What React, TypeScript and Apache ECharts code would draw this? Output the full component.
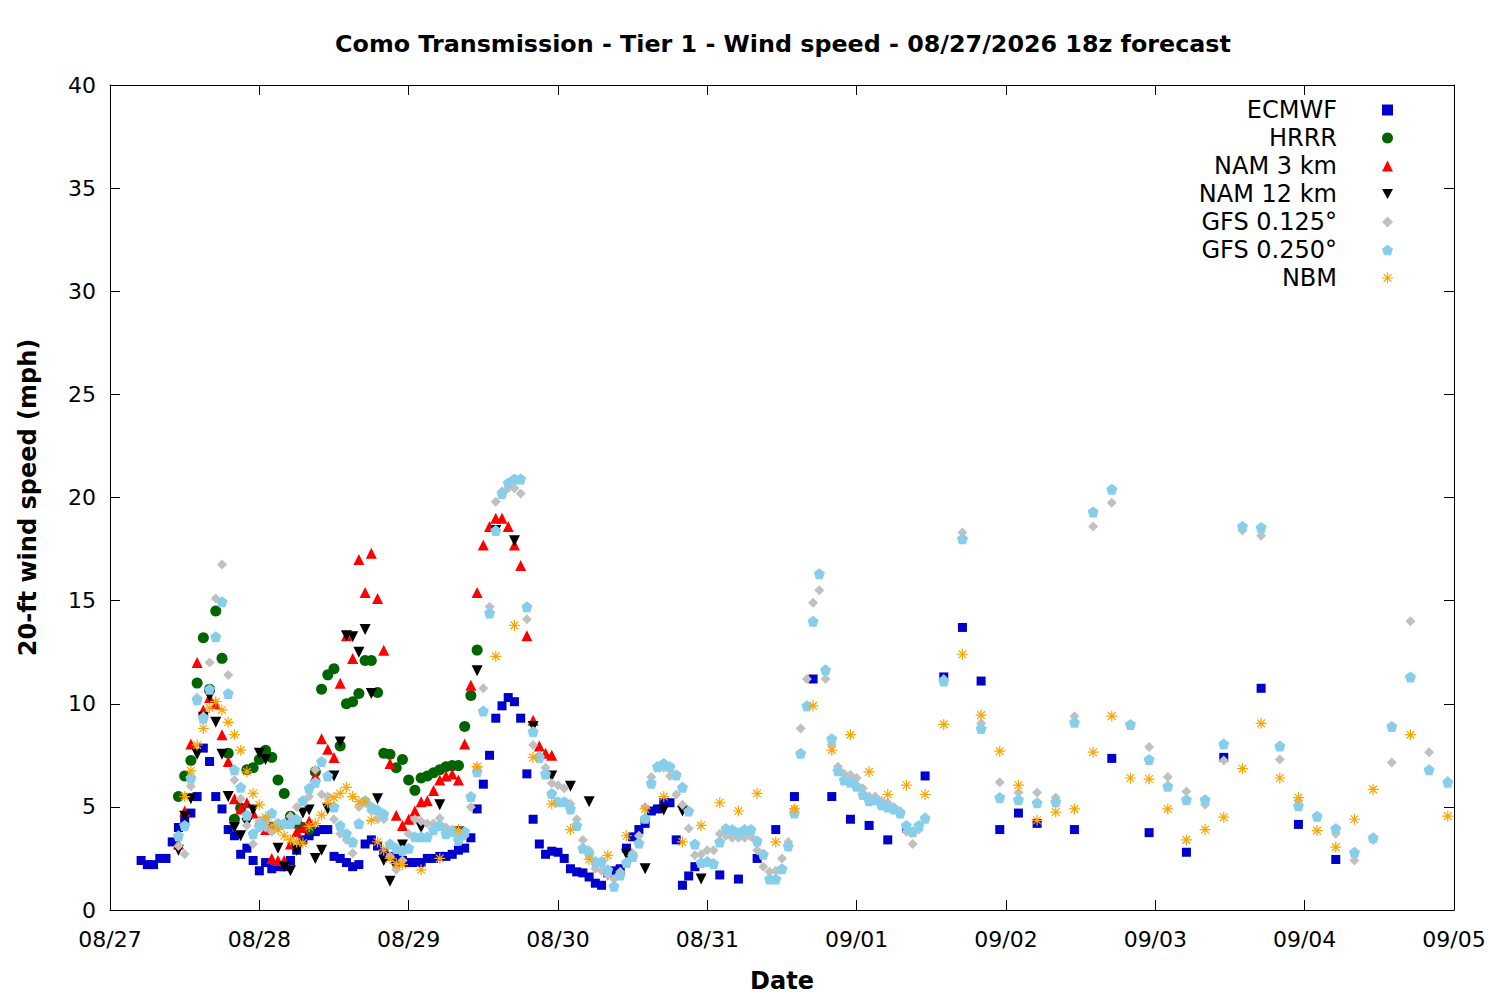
import React, { useEffect, useRef } from "react";
import * as echarts from "echarts";

// forecast hours are counted from 08/27 00 (one tick per day)
const range = (start: number, end: number, step: number): number[] => {
  const out: number[] = [];
  for (let h = start; h <= end; h += step) out.push(h);
  return out;
};

const dateLabels = ["08/27", "08/28", "08/29", "08/30", "08/31", "09/01", "09/02", "09/03", "09/04", "09/05"];

const ecmwfHours = [...range(5, 94, 1), ...range(98, 149, 3), ...range(155, 197, 6)];
const ecmwfValues = [
  2.4, 2.2, 2.2, 2.5, 2.5, 3.3, 4.0, 4.4, 4.7, 5.5,
  7.85, 7.2, 5.5, 4.9, 3.9, 3.6, 2.7, 3.0, 2.4, 1.9,
  2.3, 2.0, 2.1, 2.1, 2.4, 2.9, 3.4, 3.6, 3.8, 3.9,
  3.9, 2.6, 2.5, 2.3, 2.1, 2.2, 3.2, 3.4, 3.1, 2.8,
  2.6, 2.5, 2.4, 2.3, 2.3, 2.3, 2.5, 2.5, 2.6, 2.6,
  2.7, 2.9, 3.0, 3.5, 4.9, 6.1, 7.5, 9.3, 9.9, 10.3,
  10.1, 9.3, 6.6, 4.4, 3.2, 2.7, 2.85, 2.8, 2.5, 2.0,
  1.85, 1.8, 1.6, 1.3, 1.2, 1.8, 1.9, 2.0, 3.0, 3.55,
  3.9, 4.2, 4.8, 4.9, 5.2, 5.2, 3.4, 1.2, 1.65, 2.1,
  1.7, 1.5, 2.5, 3.9, 5.5, 11.2, 5.5, 4.4, 4.1, 3.4,
  3.95, 6.5, 11.3, 13.7, 11.1, 3.9, 4.7, 4.2,
  3.9, 7.35, 3.75, 2.8, 7.4, 10.75, 4.15, 2.45,
];

const hrrrHours = range(11, 59, 1);
const hrrrValues = [
  5.5, 6.5, 7.25, 11.0, 13.2, 10.7, 14.5, 12.2, 7.6, 4.4,
  4.95, 6.8, 6.9, 7.3, 7.75, 7.4, 6.3, 5.65, 4.55, 4.2,
  4.0, 3.9, 6.7, 10.7, 11.4, 11.7, 7.95, 10.0, 10.1, 10.5,
  12.1, 12.1, 10.55, 7.6, 7.55, 6.9, 7.3, 6.3, 5.8, 6.4,
  6.5, 6.65, 6.8, 6.95, 7.0, 7.0, 8.9, 10.4, 12.6,
];

const nam3Hours = range(11, 71, 1);
const nam3Values = [
  3.2, 4.8, 8.05, 12.0, 9.7, 10.3, 10.0, 8.5, 7.2, 5.4,
  4.9, 5.2, 4.7, 4.3, 3.9, 2.5, 2.4, 2.4, 3.2, 3.8,
  4.0, 4.3, 6.5, 8.3, 7.8, 7.4, 11.0, 13.3, 12.2, 17.0,
  15.4, 17.3, 15.1, 12.6, 7.1, 4.6, 4.1, 4.4, 4.8, 5.25,
  5.3, 5.8, 6.3, 6.5, 6.6, 6.3, 8.05, 10.9, 15.4, 17.7,
  18.6, 19.0, 19.0, 18.6, 17.7, 16.7, 13.3, 9.2, 7.95, 7.6, 7.5,
];

const nam12Hours = [...range(11, 47, 1), ...range(50, 95, 3)];
const nam12Values = [
  2.9, 4.55, 5.4, 7.55, 9.35, 10.35, 9.1, 7.55, 5.5, 4.0,
  3.6, 4.2, 4.85, 7.6, 7.3, 4.0, 3.0, 2.1, 1.9, 2.9,
  4.7, 4.85, 2.5, 2.9, 4.9, 6.5, 8.15, 13.3, 13.25, 12.5,
  13.6, 10.5, 5.4, 2.4, 1.4, 2.05, 3.15,
  4.0, 5.1, 3.8, 11.6, 18.4, 17.9, 8.9, 6.5, 6.0, 5.25, 1.7, 2.7, 2.0, 4.85, 4.8, 1.5,
];

const gfsHours = [...range(11, 131, 1), ...range(134, 215, 3)];
const gfs125Values = [
  3.1, 2.7, 6.0, 10.3, 9.4, 12.0, 15.1, 16.75, 11.4, 6.3,
  5.4, 4.1, 3.2, 4.3, 4.0, 3.8, 4.0, 4.2, 4.55, 5.0,
  5.3, 5.5, 6.8, 5.6, 5.5, 4.4, 3.7, 3.4, 2.75, 5.0,
  5.2, 4.8, 4.4, 4.4, 2.6, 1.95, 2.4, 3.7, 4.4, 4.3,
  4.2, 4.2, 4.45, 4.0, 3.9, 3.7, 3.6, 5.0, 6.9, 10.75,
  14.7, 19.8, 20.3, 20.45, 20.45, 20.2, 14.1, 8.0, 7.5, 6.9,
  6.15, 6.05, 5.9, 5.15, 4.4, 3.4, 2.9, 2.0, 1.9, 1.7,
  1.5, 1.85, 2.3, 2.75, 3.6, 5.0, 6.45, 7.0, 6.9, 6.5,
  5.6, 5.1, 3.95, 2.65, 2.7, 2.9, 2.9, 3.7, 3.6, 3.5,
  3.5, 3.5, 3.55, 2.9, 2.1, 1.85, 1.9, 2.5, 3.3, 4.9,
  8.8, 11.2, 14.9, 15.5, 11.2, 8.0, 6.95, 6.6, 6.55, 6.4,
  5.9, 5.5, 5.5, 5.3, 5.2, 5.0, 4.8, 3.8, 3.2, 3.9, 4.5,
  11.2, 18.3, 9.05, 6.2, 5.7, 5.7, 5.45, 9.4, 18.6, 19.75,
  9.0, 7.9, 6.45, 5.75, 5.1, 7.25, 18.4, 18.15, 7.3, 5.3,
  4.5, 3.7, 2.4, 3.4, 7.15, 14.0, 7.65, 6.25,
];
const gfs250Values = [
  3.6, 4.1, 6.4, 10.2, 9.3, 10.7, 13.25, 14.95, 10.5, 6.8,
  5.95, 4.6, 3.7, 4.05, 4.4, 4.7, 4.2, 4.2, 4.2, 4.4,
  5.3, 5.9, 6.2, 7.2, 6.5, 5.0, 4.1, 3.7, 3.3, 4.2,
  5.3, 5.0, 4.85, 4.65, 3.2, 3.0, 2.9, 3.0, 3.55, 3.55,
  3.55, 3.9, 4.1, 3.7, 3.8, 3.4, 3.8, 5.5, 6.7, 9.65,
  14.4, 18.4, 20.2, 20.7, 20.9, 20.9, 14.7, 8.65, 7.4, 6.6,
  5.65, 5.25, 5.25, 4.9, 4.1, 3.0, 2.75, 2.35, 2.35, 1.95,
  1.15, 1.7, 2.3, 2.6, 3.25, 4.45, 6.15, 6.95, 7.1, 6.95,
  6.55, 5.95, 4.8, 3.2, 2.3, 2.35, 2.25, 3.3, 3.95, 3.9,
  3.75, 3.9, 3.9, 3.35, 2.7, 1.5, 1.5, 2.0, 3.1, 4.7,
  7.6, 9.9, 14.0, 16.3, 11.65, 8.3, 6.75, 6.3, 6.2, 6.0,
  5.6, 5.3, 5.35, 5.1, 5.0, 4.9, 4.7, 4.1, 3.8, 4.1, 4.45,
  11.1, 18.0, 8.8, 5.45, 5.35, 5.2, 5.25, 9.1, 19.3, 20.4,
  9.0, 7.3, 6.0, 5.35, 5.35, 8.05, 18.6, 18.55, 7.95, 5.05,
  4.55, 3.95, 2.8, 3.5, 8.9, 11.3, 6.8, 6.2,
];

const nbmHours = [...range(12, 47, 1), ...range(50, 203, 3), 209, 215];
const nbmValues = [
  5.5, 6.75, 8.0, 8.8, 9.8, 10.1, 9.7, 9.1, 8.5, 7.75,
  6.7, 5.65, 5.1, 4.5, 4.1, 3.9, 3.6, 3.4, 3.3, 3.25,
  4.05, 4.2, 4.6, 5.2, 5.45, 5.65, 5.95, 5.5, 5.25, 5.25,
  4.35, 3.3, 2.9, 2.5, 2.25, 2.2,
  1.95, 2.5, 3.9, 6.95, 12.3, 13.8, 7.4, 5.15, 3.9, 2.45,
  2.65, 3.6, 4.9, 5.5, 3.3, 4.1, 5.2, 4.8, 5.65, 3.3,
  4.9, 9.9, 7.75, 8.5, 6.7, 5.6, 6.05, 5.6, 9.0, 12.4,
  9.45, 7.7, 6.05, 4.35, 4.75, 4.9, 7.65, 9.4, 6.4, 6.35,
  4.9, 3.4, 3.9, 4.5, 6.85, 9.05, 6.4, 5.45, 3.85, 3.05,
  4.4, 5.85,
  8.5, 4.55,
];

const FONT = "DejaVu Sans";
const DOWN_TRIANGLE = "path://M0,0 L10,0 L5,9 Z";
const PENTAGON = "path://M5,0 L10,3.6 L8.1,9.5 L1.9,9.5 L0,3.6 Z";
const ASTERISK =
  "path://M0,4.45 L10,4.45 L10,5.55 L0,5.55 Z M4.45,0 L5.55,0 L5.55,10 L4.45,10 Z " +
  "M1.1,1.9 L1.9,1.1 L8.9,8.1 L8.1,8.9 Z M8.1,1.1 L8.9,1.9 L1.9,8.9 L1.1,8.1 Z";

const App: React.FC = () => {
  const chartRef = useRef<HTMLDivElement>(null);

  useEffect(() => {
    if (!chartRef.current) return;
    document.body.style.margin = "0";

    const chart = echarts.init(chartRef.current, undefined, { renderer: "svg" });

    const models = [
      { name: "ECMWF", hours: ecmwfHours, values: ecmwfValues, symbol: "rect", size: 9, color: "#0000cc" },
      { name: "HRRR", hours: hrrrHours, values: hrrrValues, symbol: "circle", size: 11, color: "#006400" },
      { name: "NAM 3 km", hours: nam3Hours, values: nam3Values, symbol: "triangle", size: 11, color: "#ff0000" },
      { name: "NAM 12 km", hours: nam12Hours, values: nam12Values, symbol: DOWN_TRIANGLE, size: 11, color: "#000000" },
      { name: "GFS 0.125°", hours: gfsHours, values: gfs125Values, symbol: "diamond", size: 10, color: "#c0c0c0" },
      { name: "GFS 0.250°", hours: gfsHours, values: gfs250Values, symbol: PENTAGON, size: 11, color: "#87ceeb" },
      { name: "NBM", hours: nbmHours, values: nbmValues, symbol: ASTERISK, size: 11, color: "#ffa500" },
    ];

    const axisCommon = {
      type: "value" as const,
      axisLine: { show: true, onZero: false, lineStyle: { color: "#000", width: 1 } },
      axisTick: { show: true, inside: true, length: 10, lineStyle: { color: "#000" } },
      splitLine: { show: false },
    };

    const option: echarts.EChartsOption = {
      animation: false,
      backgroundColor: "#ffffff",
      title: {
        text: "Como Transmission - Tier 1 - Wind speed - 08/27/2026 18z forecast",
        left: 783,
        top: 32,
        padding: 0,
        textAlign: "center",
        textStyle: { fontFamily: FONT, fontSize: 23.8, fontWeight: "bold", color: "#000" },
      },
      legend: models.map((m, i) => ({
        data: [m.name],
        orient: "vertical",
        right: 107,
        top: 98 + i * 28,
        padding: 0,
        align: "right",
        itemWidth: 11,
        itemHeight: 11,
        selectedMode: false,
        textStyle: { fontFamily: FONT, fontSize: 24, color: "#000", padding: [0, 40, 0, 0] },
      })),
      grid: { left: 110, right: 46, top: 85, bottom: 90 },
      xAxis: [
        {
          ...axisCommon,
          min: 0,
          max: 216,
          interval: 24,
          name: "Date",
          nameLocation: "middle",
          nameGap: 59,
          nameTextStyle: { fontFamily: FONT, fontSize: 24, fontWeight: "bold", color: "#000" },
          axisLabel: {
            margin: 18,
            fontFamily: FONT,
            fontSize: 22,
            color: "#000",
            formatter: (v: number) => dateLabels[Math.round(v / 24)] ?? "",
          },
        },
        {
          ...axisCommon,
          position: "top",
          min: 0,
          max: 216,
          interval: 24,
          axisLabel: { show: false },
        },
      ],
      yAxis: [
        {
          ...axisCommon,
          min: 0,
          max: 40,
          interval: 5,
          name: "20-ft wind speed (mph)",
          nameLocation: "middle",
          nameGap: 70,
          nameTextStyle: { fontFamily: FONT, fontSize: 24, fontWeight: "bold", color: "#000" },
          axisLabel: { margin: 14, fontFamily: FONT, fontSize: 22, color: "#000" },
        },
        {
          ...axisCommon,
          position: "right",
          min: 0,
          max: 40,
          interval: 5,
          axisLabel: { show: false },
        },
      ],
      series: models.map((m) => ({
        type: "scatter",
        name: m.name,
        xAxisIndex: 0,
        yAxisIndex: 0,
        data: m.hours.map((h, i) => [h, m.values[i]]),
        symbol: m.symbol,
        symbolSize: m.size,
        itemStyle: { color: m.color, opacity: 1 },
        emphasis: { disabled: true },
      })),
    };

    chart.setOption(option);

    return () => {
      chart.dispose();
    };
  }, []);

  return <div ref={chartRef} style={{ width: "1500px", height: "1000px" }} />;
};

export default App;
